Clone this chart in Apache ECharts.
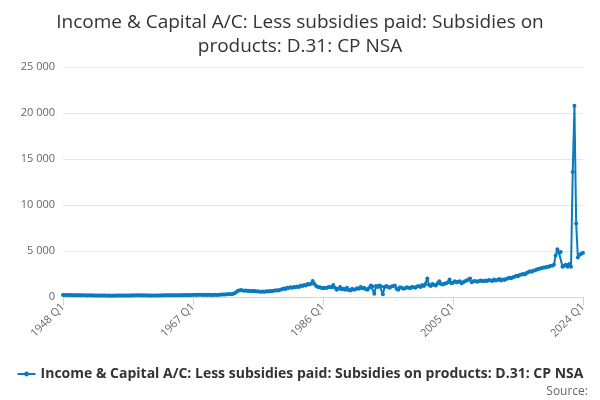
<!DOCTYPE html>
<html>
<head>
<meta charset="utf-8">
<script src="https://cdn.jsdelivr.net/npm/echarts@6/dist/echarts.min.js"></script>
<style>html,body{margin:0;padding:0;background:#fff}#chart{width:600px;height:400px}</style>
</head>
<body>
<div id="chart"></div>
<script>
var seriesName = 'Income & Capital A/C: Less subsidies paid: Subsidies on products: D.31: CP NSA';
var yTicks = [0, 5000, 10000, 15000, 20000, 25000];

// quarterly values, one row per year, 1948 .. 2024 Q1
var values = [
  230, 220, 210, 220,   // 1948
  200, 210, 190, 200,
  190, 200, 180, 190,
  180, 190, 170, 180,
  170, 180, 160, 170,
  170, 160, 150, 160,
  150, 160, 140, 150,
  140, 150, 140, 150,
  150, 160, 150, 160,
  160, 170, 160, 170,
  170, 180, 170, 180,   // 1958
  180, 190, 170, 180,
  170, 180, 160, 170,
  160, 170, 160, 170,
  170, 180, 170, 180,
  180, 190, 180, 190,
  190, 200, 180, 200,
  200, 210, 200, 210,
  210, 220, 200, 220,
  230, 240, 220, 240,   // 1967
  240, 250, 230, 240,
  230, 240, 220, 230,
  220, 240, 230, 240,
  250, 270, 260, 280,
  300, 320, 300, 330,
  380, 500, 650, 720,
  760, 700, 680, 720,
  650, 680, 620, 650,
  640, 600, 620, 580,   // 1976
  560, 600, 580, 620,
  600, 640, 620, 680,
  700, 740, 720, 800,
  850, 920, 880, 1000,
  980, 1050, 1000, 1100,
  1050, 1150, 1100, 1250,
  1200, 1300, 1250, 1400,
  1350, 1450, 1750, 1400,
  1200, 1100, 1050, 1000,   // 1985
  950, 1000, 980, 1050,
  1100, 1050, 1300, 1000,
  800, 900, 1100, 850,
  900, 800, 1000, 750,
  700, 900, 800, 850,
  950, 900, 1100, 950,
  1000, 850, 800, 1000,
  1250, 1150, 350, 1200,
  1100, 1250, 1150, 300,   // 1994
  1100, 1200, 1100, 1000,
  1150, 1200, 1250, 900,
  800, 1050, 1000, 900,
  950, 1050, 1000, 950,
  1100, 1050, 1000, 1150,
  1200, 1100, 1300, 1200,
  1400, 2000, 1300, 1200,
  1400, 1300, 1250, 1500,
  1700, 1400, 1350, 1450,   // 2003
  1500, 1600, 1900, 1500,
  1550, 1700, 1600, 1650,
  1700, 1500, 1600, 1700,
  1800, 1900, 2000, 1600,
  1700, 1750, 1650, 1700,
  1800, 1750, 1700, 1800,
  1750, 1850, 1800, 1750,
  1900, 1800, 1850, 1950,
  1800, 1900, 1850, 1950,   // 2012
  2000, 2100, 2050, 2150,
  2200, 2300, 2250, 2400,
  2450, 2500, 2450, 2600,
  2700, 2800, 2750, 2850,
  2900, 3000, 3050, 3100,
  3150, 3200, 3200, 3300,
  3300, 3400, 3400, 3500,
  4500, 5200, 4800, 4900,   // 2020
  3300, 3400, 3500, 3300,
  3600, 3300, 13600, 20800,
  8000, 4300, 4600, 4700,
  4800                      // 2024 Q1
];

var categories = [];
for (var y = 1948; y <= 2024; y++) {
  for (var q = 1; q <= 4; q++) {
    if (categories.length < values.length) categories.push(y + ' Q' + q);
  }
}

var myChart = echarts.init(document.getElementById('chart'));
var option = {
  backgroundColor: '#fff',
  title: {
    text: 'Income & Capital A/C: Less subsidies paid: Subsidies on\nproducts: D.31: CP NSA',
    left: 'center',
    top: 6,
    textStyle: { fontFamily: 'Open Sans', fontSize: 19, fontWeight: 'normal', color: '#333', lineHeight: 24 }
  },
  grid: { left: 63, right: 17, top: 67, bottom: 103 },
  legend: {
    bottom: 14,
    left: 'center',
    itemWidth: 18,
    itemHeight: 6,
    itemGap: 4,
    data: [seriesName],
    textStyle: { fontFamily: 'Open Sans', fontSize: 14, fontWeight: 'bold', color: '#333' }
  },
  graphic: [{
    type: 'text', right: 12, bottom: 2,
    style: { text: 'Source:', fontFamily: 'Open Sans', fontSize: 12, fill: '#666' }
  }],
  xAxis: {
    type: 'category',
    data: categories,
    boundaryGap: false,
    axisLine: { lineStyle: { color: '#ccd6eb' } },
    axisTick: { alignWithLabel: true, interval: 75, length: 8, lineStyle: { color: '#ccd6eb' } },
    axisLabel: { interval: 75, rotate: 45, color: '#666', fontFamily: 'Open Sans', fontSize: 11 }
  },
  yAxis: {
    type: 'value',
    min: yTicks[0],
    max: yTicks[yTicks.length - 1],
    interval: 5000,
    axisLine: { show: false },
    axisTick: { show: false },
    splitLine: { lineStyle: { color: '#e6e6e6' } },
    axisLabel: {
      color: '#666', fontFamily: 'Open Sans', fontSize: 11,
      formatter: function (v) { return String(v).replace(/\B(?=(\d{3})+(?!\d))/g, ' '); }
    }
  },
  series: [{
    name: seriesName,
    type: 'line',
    data: values,
    color: '#0a7bc1',
    symbol: 'circle',
    symbolSize: 4,
    showAllSymbol: true,
    lineStyle: { width: 2 }
  }]
};
myChart.setOption(option);
</script>
</body>
</html>
